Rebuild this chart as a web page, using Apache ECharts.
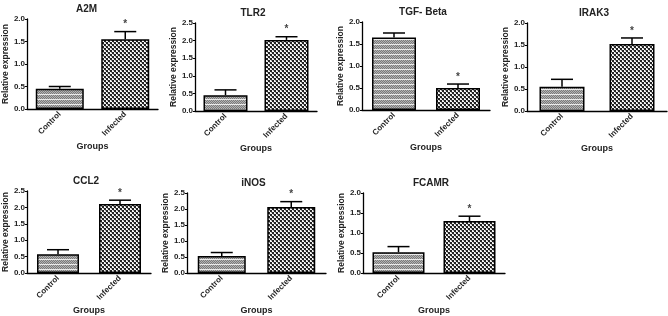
<!DOCTYPE html>
<html>
<head>
<meta charset="utf-8">
<script src="https://cdn.jsdelivr.net/npm/echarts@6/dist/echarts.min.js"></script>
<style>
  html, body { margin: 0; padding: 0; background: #fff; }
  #main { width: 668px; height: 316px; }
</style>
</head>
<body>
<div id="main"></div>
<script>
// data
var genes = ['A2M', 'TLR2', 'TGF- Beta', 'IRAK3', 'CCL2', 'iNOS', 'FCAMR'];
var groups = ['Control', 'Infected'];
var controlMean = [0.45, 0.45, 1.65, 0.55, 0.57, 0.53, 0.52];
var controlErr = [0.05, 0.15, 0.10, 0.17, 0.14, 0.11, 0.14];
var infectedMean = [1.55, 2.02, 0.50, 1.52, 2.10, 2.06, 1.30];
var infectedErr = [0.17, 0.09, 0.09, 0.14, 0.12, 0.17, 0.12];
var yMax = [2.0, 2.5, 2.0, 2.0, 2.5, 2.5, 2.0];
var sigGroup = [1, 1, 1, 1, 1, 1, 1]; // index of group marked with *

// panel layout (px)
var panels = [
  { l: 21,  t: 19,  w: 137, h: 90, bw: 48 },
  { l: 195, t: 23,  w: 122, h: 88, bw: 44 },
  { l: 362, t: 22,  w: 128, h: 88, bw: 44 },
  { l: 527, t: 23,  w: 140, h: 88, bw: 45 },
  { l: 27,  t: 191, w: 124, h: 86, bw: 42 },
  { l: 187, t: 193, w: 139, h: 85, bw: 48 },
  { l: 363, t: 193, w: 142, h: 85, bw: 52 }
];

function makePattern(kind) {
  var c = document.createElement('canvas');
  var ctx = c.getContext('2d');
  if (kind === 'control') {
    c.width = 4; c.height = 5;
    for (var y = 0; y < 5; y++) {
      for (var x = 0; x < 4; x++) {
        ctx.fillStyle = (x + y) % 2 ? '#7a7a7a' : '#b4b4b4';
        if (y === 4) ctx.fillStyle = '#ececec';
        ctx.fillRect(x, y, 1, 1);
      }
    }
  } else {
    c.width = 4; c.height = 4;
    ctx.fillStyle = '#f6f6f6';
    ctx.fillRect(0, 0, 4, 4);
    ctx.fillStyle = '#222';
    ctx.fillRect(0, 0, 2, 2);
    ctx.fillRect(2, 2, 2, 2);
    ctx.fillStyle = '#999';
    ctx.fillRect(3, 0, 1, 1);
    ctx.fillRect(1, 2, 1, 1);
  }
  return { image: c, repeat: 'repeat' };
}
var fills = [makePattern('control'), makePattern('infected')];

var font = 'Liberation Sans, Arial, sans-serif';
var chart = echarts.init(document.getElementById('main'), null, { renderer: 'canvas' });

var option = {
  animation: false,
  backgroundColor: '#fff',
  title: [],
  grid: [],
  xAxis: [],
  yAxis: [],
  series: []
};

genes.forEach(function (g, i) {
  var p = panels[i];
  option.title.push({
    text: g,
    left: p.l + p.w / 2 - 8,
    top: p.t - 20,
    textAlign: 'center',
    textStyle: { fontFamily: font, fontSize: 10, fontWeight: 'bold', color: '#222' }
  });
  option.grid.push({ left: p.l, top: p.t, width: p.w, height: p.h });
  option.xAxis.push({
    type: 'category',
    gridIndex: i,
    data: groups,
    name: 'Groups',
    nameLocation: 'middle',
    nameGap: 33,
    nameTextStyle: { fontFamily: font, fontSize: 9, fontWeight: 'bold', color: '#222' },
    axisLine: { lineStyle: { color: '#000', width: 1.3 } },
    axisTick: { alignWithLabel: true, length: 3, lineStyle: { color: '#000' } },
    axisLabel: {
      rotate: 45, margin: 4, fontFamily: font, fontSize: 8,
      fontWeight: 'bold', color: '#222'
    }
  });
  option.yAxis.push({
    type: 'value',
    gridIndex: i,
    min: 0,
    max: yMax[i],
    interval: 0.5,
    name: 'Relative expression',
    nameLocation: 'middle',
    nameGap: 17,
    nameTextStyle: { fontFamily: font, fontSize: 8.5, fontWeight: 'bold', color: '#222' },
    splitLine: { show: false },
    axisLine: { show: true, lineStyle: { color: '#000', width: 1.3 } },
    axisTick: { show: true, length: 2, lineStyle: { color: '#000' } },
    axisLabel: {
      margin: 2, fontFamily: font, fontSize: 8, fontWeight: 'bold', color: '#222',
      formatter: function (v) { return v.toFixed(1); }
    }
  });

  var means = [controlMean[i], infectedMean[i]];
  var errs = [controlErr[i], infectedErr[i]];

  option.series.push({
    type: 'bar',
    xAxisIndex: i,
    yAxisIndex: i,
    barWidth: p.bw,
    data: means.map(function (v, k) {
      return { value: v, itemStyle: { color: fills[k] } };
    }),
    itemStyle: { borderColor: '#000', borderWidth: 1.5 }
  });

  option.series.push({
    type: 'custom',
    xAxisIndex: i,
    yAxisIndex: i,
    z: 5,
    data: means.map(function (v, k) { return [k, v, errs[k], sigGroup[i] === k ? 1 : 0]; }),
    renderItem: function (params, api) {
      var k = api.value(0);
      var base = api.coord([k, api.value(1)]);
      var top = api.coord([k, api.value(1) + api.value(2)]);
      var half = 11;
      var children = [
        { type: 'line', shape: { x1: base[0], y1: base[1], x2: top[0], y2: top[1] },
          style: { stroke: '#000', lineWidth: 1.5 } },
        { type: 'line', shape: { x1: top[0] - half, y1: top[1], x2: top[0] + half, y2: top[1] },
          style: { stroke: '#000', lineWidth: 1.5 } }
      ];
      if (api.value(3)) {
        children.push({
          type: 'text',
          style: {
            text: '*', x: top[0], y: top[1] - 2,
            textAlign: 'center', textVerticalAlign: 'bottom',
            font: 'bold 10px ' + font, fill: '#444'
          }
        });
      }
      return { type: 'group', children: children };
    }
  });
});

chart.setOption(option);
</script>
</body>
</html>
